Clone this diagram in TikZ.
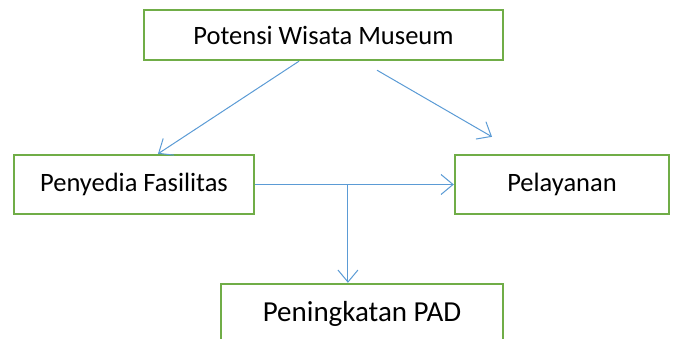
\documentclass[tikz,border=0pt]{standalone}
\usepackage{fontspec}
\setmainfont{Carlito}
\usepackage{tikz}
\usetikzlibrary{positioning, arrows.meta, calc}

\definecolor{boxgreen}{HTML}{70AD47}
\definecolor{lineblue}{HTML}{5B9BD5}

\begin{document}
\begin{tikzpicture}[
  x=1pt, y=-1pt,
  font=\fontsize{26.5}{30}\selectfont,
  gbox/.style={rectangle, draw=boxgreen, line width=2.4pt, fill=white,
               align=center, inner sep=0pt},
  arr/.style={-{Straight Barb[length=12pt, width=20pt]}, lineblue, line width=1pt},
]
\useasboundingbox (0,0) rectangle (675,339);

%% TOP
\node[gbox, minimum width=359pt, minimum height=50pt] (pot) at (323.5, 35)
  {Potensi Wisata Museum};

%% MIDDLE ROW
\node[gbox, minimum width=240pt, minimum height=59pt] (fas) at (134, 184.5)
  {Penyedia Fasilitas};
\node[gbox, minimum width=214pt, minimum height=59pt] (pel) at (562, 184.5)
  {Pelayanan};

%% BOTTOM
\node[gbox, minimum width=282pt, minimum height=60pt,
      font=\fontsize{29}{33}\selectfont] (pad) at (362, 314)
  {Peningkatan PAD};

%% CONNECTORS
\draw[arr] ([xshift=-24.5pt]pot.south) -- ([xshift=24pt]fas.north);
\draw[arr] ([xshift=53.5pt, yshift=-9pt]pot.south) -- ([xshift=-70pt, yshift=17pt]pel.north);
\draw[arr] (fas.east) -- (pel.west);
\coordinate (split) at ($(fas.east)!0.467!(pel.west)$);
\draw[arr] (split) -- (split |- pad.north);

\end{tikzpicture}
\end{document}
